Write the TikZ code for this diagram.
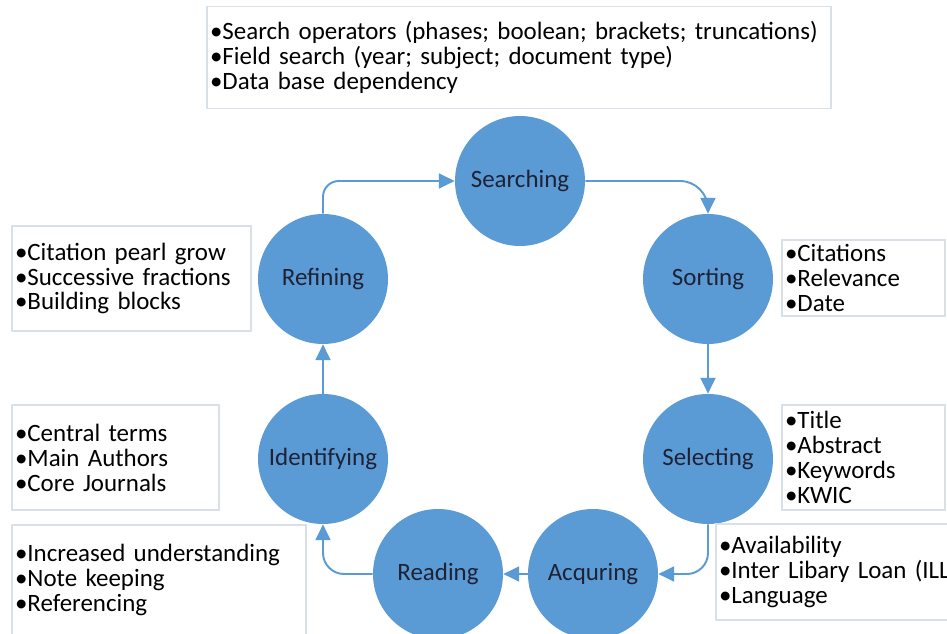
\documentclass[tikz,border=0pt]{standalone}
\usepackage{fontspec}
\setmainfont{Carlito}
\usetikzlibrary{arrows.meta}
\hyphenpenalty=10000
\definecolor{cycleblue}{RGB}{91,155,213}
\definecolor{boxline}{RGB}{218,224,232}
\definecolor{labelink}{RGB}{30,34,52}
\tikzset{
  stage/.style={circle, fill=cycleblue, minimum size=2.6cm, inner sep=0pt, text=labelink, font=\fontsize{14.2}{14.2}\selectfont},
  infobox/.style={draw=boxline, line width=0.8pt, fill=white, align=left, inner xsep=0.06cm, inner ysep=0pt, font=\fontsize{14.2}{14.2}\selectfont},
  flow/.style={draw=cycleblue, line width=1.1pt, -{Triangle[width=8.5pt,length=9pt]}, rounded corners=9pt}
}
\begin{document}
\begin{tikzpicture}[x=0.02cm, y=-0.02cm]
\clip (0,0) rectangle (947,634);
\fill[white] (0,0) rectangle (947,634);
% the cycle
\node[stage] (searching) at (520,181) {Searching};
\node[stage] (sorting) at (708,279) {Sorting};
\node[stage] (selecting) at (708,459) {Selecting};
\node[stage] (acquring) at (593,574) {Acquring};
\node[stage] (reading) at (438,574) {Reading};
\node[stage] (identifying) at (323,459) {Identifying};
\node[stage] (refining) at (323,279) {Refining};
% notes
\node[infobox, text width=12.36cm, minimum height=2.04cm] (searchnote) at (519,57.5) {•Search operators (phases; boolean; brackets; truncations)\\•Field search (year; subject; document type)\\•Data base dependency};
\node[infobox, text width=4.66cm, minimum height=2.1cm] (refinenote) at (131.5,278.5) {•Citation pearl grow\\•Successive fractions\\•Building blocks};
\node[infobox, text width=3.14cm, minimum height=1.52cm] (sortnote) at (863.5,278) {•Citations\\•Relevance\\•Date};
\node[infobox, text width=3.14cm, minimum height=2.1cm] (selectnote) at (863.5,457.5) {•Title\\•Abstract\\•Keywords\\•KWIC};
\node[infobox, text width=5.08cm, minimum height=1.92cm] (acquirenote) at (846,572) {•Availability\\•Inter Libary Loan (ILL)\\•Language};
\node[infobox, text width=4.02cm, minimum height=2.1cm] (identifynote) at (115.5,457.5) {•Central terms\\•Main Authors\\•Core Journals};
\node[infobox, text width=5.76cm, minimum height=2.2cm] (readnote) at (159,580) {•Increased understanding\\•Note keeping\\•Referencing};
% arrows
\draw[flow] (refining.north) |- (searching.west);
\draw[flow, rounded corners=16pt] (searching.east) -| (sorting.north);
\draw[flow] (sorting) -- (selecting);
\draw[flow, rounded corners=12pt] (selecting.south) |- (acquring.east);
\draw[flow] (acquring) -- (reading);
\draw[flow, rounded corners=12pt] (reading.west) -| (identifying.south);
\draw[flow] (identifying) -- (refining);
\end{tikzpicture}
\end{document}
